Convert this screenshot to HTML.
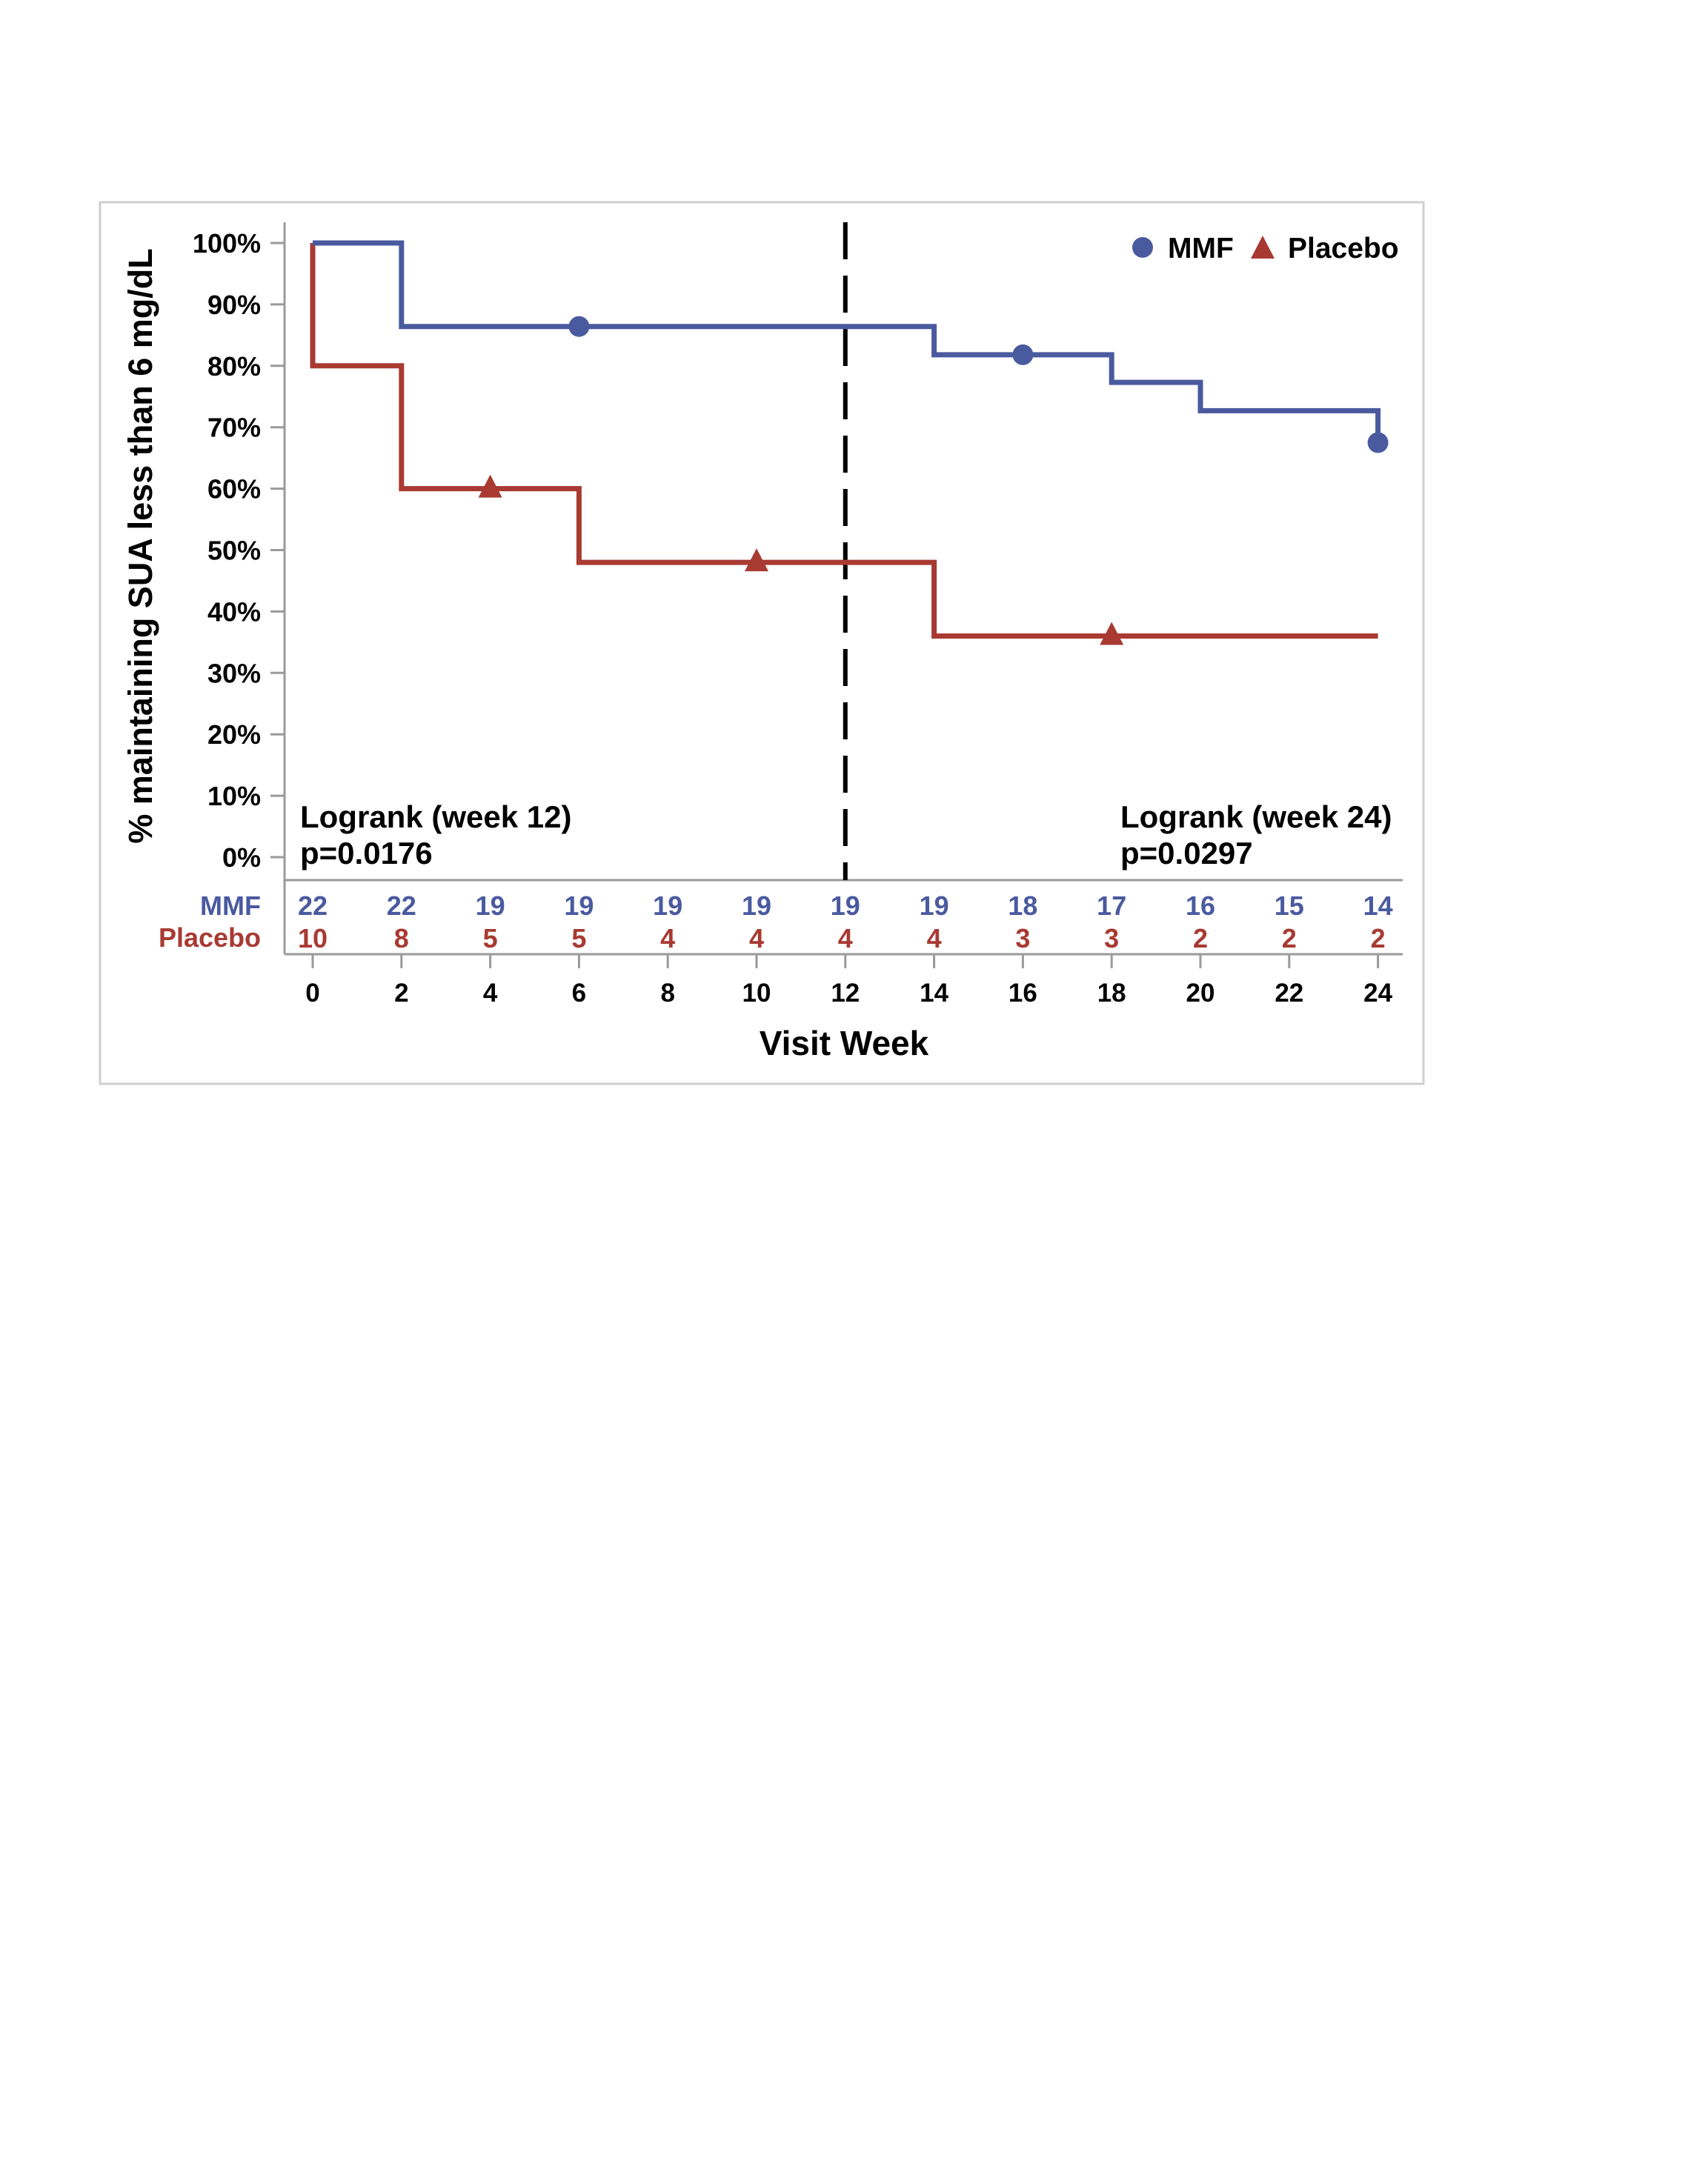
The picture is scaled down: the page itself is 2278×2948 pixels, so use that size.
<!DOCTYPE html>
<html><head><meta charset="utf-8"><style>
html,body{margin:0;padding:0;background:#fff;}
svg{display:block;font-family:"Liberation Sans",Arial,sans-serif;font-weight:bold;}
</style></head><body>
<svg id="chart" width="2278" height="2948" viewBox="0 0 2278 2948" xmlns="http://www.w3.org/2000/svg">
<rect x="135" y="273" width="1786" height="1190" fill="#fff" stroke="#cfcfcf" stroke-width="3"/>
<g id="axes"></g>
<g id="series"></g>
<text transform="translate(205,737) rotate(-90)" text-anchor="middle" font-size="45" fill="#000">% maintaining SUA less than 6 mg/dL</text>
<text x="1139" y="1424" text-anchor="middle" font-size="46" fill="#000">Visit Week</text>
<text x="405" y="1117" font-size="42" fill="#000">Logrank (week 12)</text>
<text x="405" y="1166" font-size="42" fill="#000">p=0.0176</text>
<text x="1512" y="1117" font-size="42" fill="#000">Logrank (week 24)</text>
<text x="1512" y="1166" font-size="42" fill="#000">p=0.0297</text>
<g>
<circle cx="1542" cy="334" r="14" fill="#4a5a9f"/>
<text x="1576" y="348" font-size="39" fill="#000">MMF</text>
<polygon points="1688,349 1720,349 1704,318" fill="#a83a32"/>
<text x="1738" y="348" font-size="39" fill="#000">Placebo</text>
</g>
</svg>
<script>
const weeks = [0,2,4,6,8,10,12,14,16,18,20,22,24];
const yTicks = [0,10,20,30,40,50,60,70,80,90,100];
const mmfAtRisk = [22,22,19,19,19,19,19,19,18,17,16,15,14];
const placeboAtRisk = [10,8,5,5,4,4,4,4,3,3,2,2,2];
const mmfTimes = [0,2,14,18,20,24];
const mmfSurv = [100,86.4,81.8,77.3,72.7,67.5];
const placeboTimes = [0,0,2,6,14,24];
const placeboSurv = [100,80,60,48,36,36];
const mmfCensorWeeks = [6,16,24];
const placeboCensorWeeks = [4,10,18];
const refWeek = 12;

const NS='http://www.w3.org/2000/svg';
const X0=422, PXW=59.9, Y0=1157, PXP=8.29;
const xs=w=>X0+w*PXW, ys=v=>Y0-v*PXP;
const axes=document.getElementById('axes'), series=document.getElementById('series');
function mk(tag,attrs,parent){const e=document.createElementNS(NS,tag);for(const k in attrs)e.setAttribute(k,attrs[k]);parent.appendChild(e);return e;}
const GREY='#9a9a9a', BLUE='#4a5a9f', RED='#a83a32';

let yl=mk('line',{x1:384,y1:300,x2:384,y2:1288,stroke:GREY,'stroke-width':3},axes);


yTicks.forEach(v=>{
  const t=mk('line',{x1:365,y1:ys(v),x2:384,y2:ys(v),stroke:GREY,'stroke-width':3},axes);
  
  
  const l=mk('text',{x:352,y:ys(v)+13,'text-anchor':'end','font-size':36,fill:'#000'},axes);
  l.textContent=v+'%';
  
  
});
let rt=mk('line',{x1:384,y1:1188,x2:1893,y2:1188,stroke:GREY,'stroke-width':3},axes);


let xl=mk('line',{x1:384,y1:1288,x2:1893,y2:1288,stroke:GREY,'stroke-width':3},axes);


let rm=mk('text',{x:352,y:1235,'text-anchor':'end','font-size':36,fill:BLUE},axes);
rm.textContent='MMF';


let rp=mk('text',{x:352,y:1278,'text-anchor':'end','font-size':36,fill:RED},axes);
rp.textContent='Placebo';


weeks.forEach((w,i)=>{
  const t=mk('line',{x1:xs(w),y1:1288,x2:xs(w),y2:1307,stroke:GREY,'stroke-width':3},axes);
  
  
  const l=mk('text',{x:xs(w),y:1352,'text-anchor':'middle','font-size':35,fill:'#000'},axes);
  l.textContent=w;
  
  
  const a=mk('text',{x:xs(w),y:1235,'text-anchor':'middle','font-size':36,fill:BLUE},axes);
  a.textContent=mmfAtRisk[i];
  
  
  const b=mk('text',{x:xs(w),y:1279,'text-anchor':'middle','font-size':36,fill:RED},axes);
  b.textContent=placeboAtRisk[i];
  
  
});
let rl=mk('line',{x1:xs(refWeek),y1:300,x2:xs(refWeek),y2:1188,stroke:'#000','stroke-width':6,'stroke-dasharray':'50,22'},axes);



function stepPath(ts,vs){let d='M'+xs(ts[0])+','+ys(vs[0]);for(let i=1;i<ts.length;i++){d+=' H'+xs(ts[i])+' V'+ys(vs[i]);}return d;}
function survAt(ts,vs,w){let v=vs[0];for(let i=0;i<ts.length;i++){if(ts[i]<=w)v=vs[i];}return v;}
let pp=mk('path',{d:stepPath(placeboTimes,placeboSurv),fill:'none',stroke:RED,'stroke-width':7,'stroke-linejoin':'miter'},series);


let mp=mk('path',{d:stepPath(mmfTimes,mmfSurv),fill:'none',stroke:BLUE,'stroke-width':7,'stroke-linejoin':'miter'},series);


mmfCensorWeeks.forEach(w=>{
  const c=mk('circle',{cx:xs(w),cy:ys(survAt(mmfTimes,mmfSurv,w)),r:14,fill:BLUE},series);
  
  
});
placeboCensorWeeks.forEach(w=>{
  const x=xs(w), y=ys(survAt(placeboTimes,placeboSurv,w));
  const p=mk('polygon',{points:(x-16)+','+(y+12)+' '+(x+16)+','+(y+12)+' '+x+','+(y-19),fill:RED},series);
  
  
});
</script>
</body></html>
